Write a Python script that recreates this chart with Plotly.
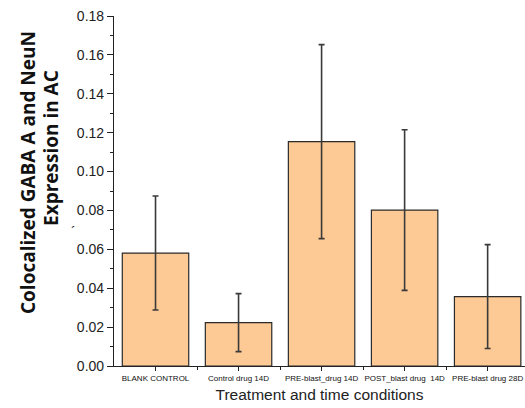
import plotly.graph_objects as go

categories = ["BLANK CONTROL", "Control drug 14D", "PRE-blast_drug 14D",
              "POST_blast drug  14D", "PRE-blast drug 28D"]
values = [0.0581, 0.0223, 0.1154, 0.0802, 0.0357]
errors = [0.0293, 0.0149, 0.0499, 0.0413, 0.0267]

xpos = list(range(len(categories)))

fig = go.Figure()
fig.add_trace(go.Bar(
    x=xpos, y=values, width=0.8,
    marker=dict(color="#FDC995", line=dict(color="#2b2b2b", width=1.2)),
    error_y=dict(type="data", array=errors, visible=True,
                 color="#3a3a3a", thickness=1.6, width=3),
))

def px_x(p):
    return (p - 114) / 411

def px_y(p):
    return (366 - p) / 350

fig.update_layout(
    width=525, height=408,
    margin=dict(l=114, r=0, t=16, b=42),
    plot_bgcolor="white", paper_bgcolor="white",
    showlegend=False,
    xaxis=dict(
        range=[-0.5, 4.45], tickmode="array", tickvals=xpos, ticktext=categories,
        tickangle=0,
        showgrid=False, zeroline=False,
        showline=True, linecolor="#222", linewidth=1.2,
        ticks="outside", ticklen=4, tickcolor="#222", tickwidth=1.2,
        tickfont=dict(family="Arial", size=8, color="#111"),
        minor=dict(tickvals=[0.5, 1.5, 2.5, 3.5], ticks="outside", ticklen=3,
                   tickcolor="#222", tickwidth=1.2),
        title=dict(text="Treatment and time conditions",
                   font=dict(family="Arial", size=15.5, color="#222"), standoff=7),
    ),
    yaxis=dict(
        range=[0, 0.18], tickmode="linear", tick0=0, dtick=0.02, tickformat=".2f",
        showgrid=False, zeroline=False,
        showline=True, linecolor="#222", linewidth=1.2,
        ticks="outside", ticklen=6, tickcolor="#222", tickwidth=1.2,
        tickfont=dict(family="Arial", size=14, color="#222"),
        minor=dict(dtick=0.01, ticks="outside", ticklen=3, tickcolor="#222", tickwidth=1.2),
    ),
    annotations=[
        dict(text="<b>Colocalized GABA A and NeuN</b>",
             xref="paper", yref="paper", x=px_x(28), y=px_y(173),
             xanchor="center", yanchor="middle", textangle=-90, showarrow=False,
             font=dict(family="Open Sans", size=19, color="#111")),
        dict(text="<b>Expression in AC</b>",
             xref="paper", yref="paper", x=px_x(51), y=px_y(148),
             xanchor="center", yanchor="middle", textangle=-90, showarrow=False,
             font=dict(family="Open Sans", size=19, color="#111")),
        dict(text="´", xref="paper", yref="paper", x=px_x(69),
             y=px_y(232), showarrow=False,
             font=dict(family="Arial", size=14, color="#111")),
    ],
)

fig.write_html("out.html")
